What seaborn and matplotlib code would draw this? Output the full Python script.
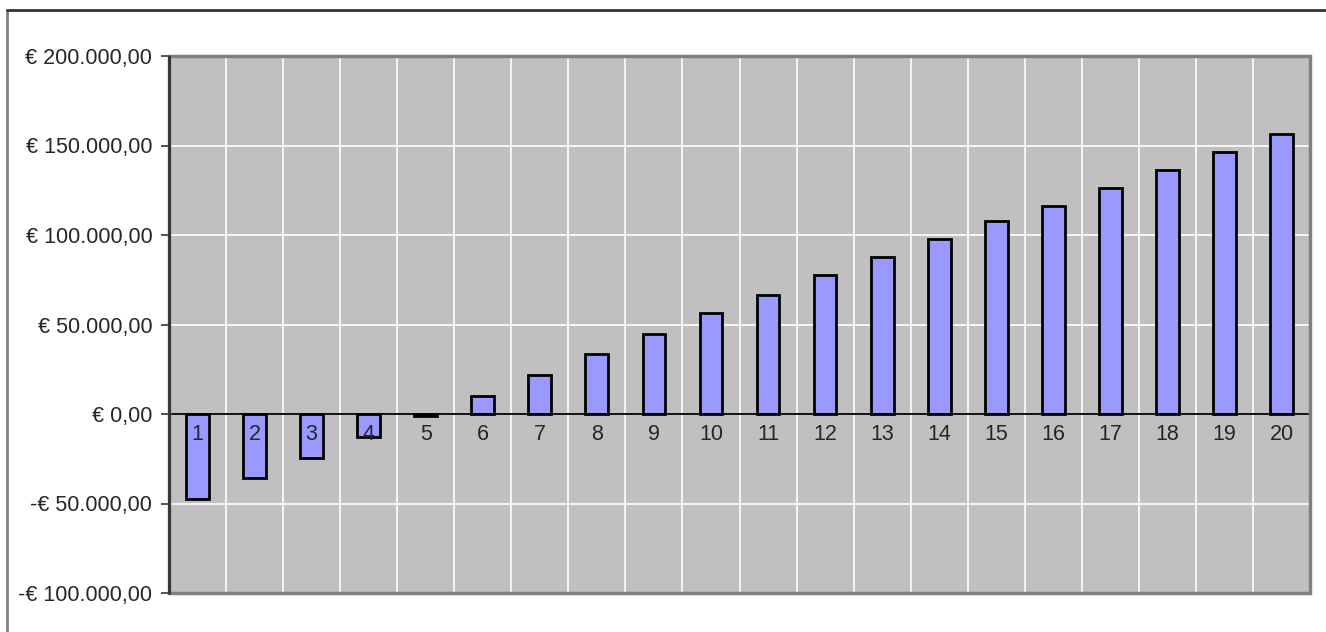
import matplotlib
matplotlib.use('Agg')
import matplotlib.pyplot as plt
import numpy as np
import pandas as pd
import seaborn as sns
from matplotlib import ticker
from matplotlib.patches import Rectangle
from matplotlib.lines import Line2D

years = [str(y) for y in range(1, 21)]
cash_flow = [-47500, -36000, -24400, -12850, -1000, 10200, 21800, 33300, 44700, 56400,
             66300, 77400, 87600, 97550, 107600, 116400, 126300, 136300, 146400, 156400]
y_ticks = [-100000, -50000, 0, 50000, 100000, 150000, 200000]


def euro_fmt(v, pos):
    s = f"{abs(v):,.2f}".replace(',', 'X').replace('.', ',').replace('X', '.')
    return f"-€ {s}" if v < 0 else f"€ {s}"


def plot_cash_flow():
    df = pd.DataFrame({'year': years, 'value': cash_flow})

    sns.set_style('white')
    plt.rcParams['font.family'] = ['Liberation Sans', 'DejaVu Sans']

    fig = plt.figure(figsize=(13.26, 6.32), dpi=100)
    ax = fig.add_axes([169 / 1326, 1 - 593 / 632, (1310 - 169) / 1326, (593 - 56) / 632])
    ax.set_facecolor('#C0C0C0')

    sns.barplot(data=df, x='year', y='value', color='#9999FF', saturation=1, width=0.4,
                edgecolor='black', linewidth=2, ax=ax, zorder=3)

    n = len(years)
    ax.set_xlim(-0.5, n - 0.5)
    ax.set_ylim(y_ticks[0], y_ticks[-1])
    ax.set_yticks(y_ticks)
    ax.yaxis.set_major_formatter(ticker.FuncFormatter(euro_fmt))
    ax.set_xlabel('')
    ax.set_ylabel('')

    # category boundaries as minor ticks / gridlines
    ax.set_xticks(np.arange(n + 1) - 0.5, minor=True)
    ax.grid(which='minor', axis='x', color='white', lw=1.2, zorder=0)
    ax.grid(which='major', axis='y', color='white', lw=1.2, zorder=0)
    ax.grid(which='major', axis='x', visible=False)

    # x axis runs through zero; category labels drawn on top of the bars
    ax.spines['bottom'].set_position(('data', 0))
    ax.spines['bottom'].set_color('black')
    ax.spines['bottom'].set_linewidth(1.3)
    ax.spines['bottom'].set_zorder(4)
    ax.tick_params(axis='x', which='major', length=0, labelbottom=False)
    ax.tick_params(axis='x', which='minor', length=5, width=1.2, color='#333333', direction='out')
    ax.tick_params(axis='y', which='major', length=6, width=1.2, color='#333333', direction='out',
                   labelsize=15.5, pad=6, left=True)
    for i, lab in enumerate(years):
        ax.annotate(lab, xy=(i, 0), xytext=(0, -7), textcoords='offset points',
                    ha='center', va='top', fontsize=15.5, zorder=10)

    for side in ['top', 'right']:
        ax.spines[side].set_visible(False)
    ax.spines['left'].set_color('#404040')
    ax.spines['left'].set_linewidth(2)

    # plot area border
    ax.add_patch(Rectangle((0, 0), 1, 1, transform=ax.transAxes, fill=False,
                           edgecolor='#808080', lw=2.5, clip_on=False, zorder=5))
    ax.plot([0, 0], [0, 1], transform=ax.transAxes, color='#333333', lw=2, clip_on=False, zorder=6)

    # outer chart frame
    fig.add_artist(Line2D([7 / 1326, 7 / 1326], [0, 1 - 10 / 632], color='#808080', lw=2))
    fig.add_artist(Line2D([7 / 1326, 1], [1 - 10 / 632, 1 - 10 / 632], color='#333333', lw=2))

    plt.savefig('out.png', dpi=100)


if __name__ == '__main__':
    plot_cash_flow()
